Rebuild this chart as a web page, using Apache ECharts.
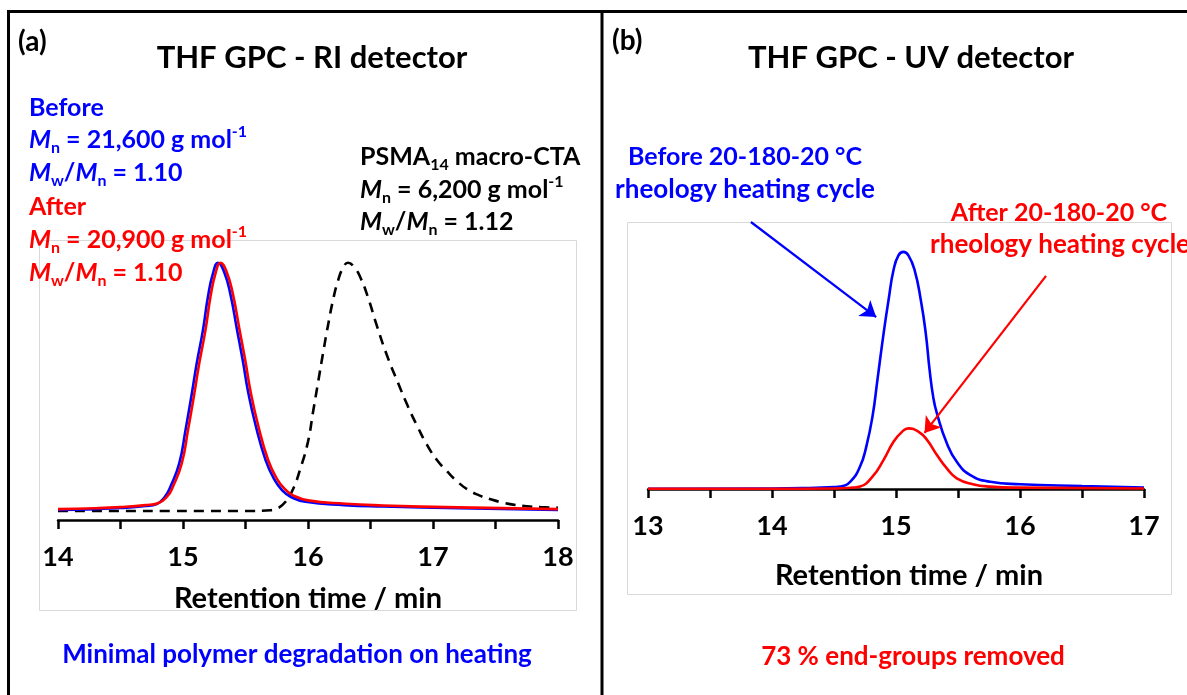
<!DOCTYPE html>
<html><head><meta charset="utf-8">
<script src="https://cdn.jsdelivr.net/npm/echarts@6/dist/echarts.min.js"></script>
<style>html,body{margin:0;padding:0;background:#fff}#c{width:1187px;height:695px}</style>
</head><body><div id="c"></div>
<script>
// ---- Panel (a): THF GPC - RI detector (retention time [min], normalized signal) ----
const riTicks = [14, 15, 16, 17, 18];
const riBefore = [
  [14.00,3.6],[14.30,3.9],[14.50,4.3],[14.70,5.0],[14.79,5.7],[14.855,8.3],[14.90,12.0],[14.97,20.2],
  [15.02,32.1],[15.07,45.0],[15.11,56.0],[15.16,67.9],[15.20,79.8],[15.24,88.1],[15.28,91.9],
  [15.33,88.5],[15.38,80.5],[15.43,68.5],[15.48,56.5],[15.52,46.0],[15.58,34.0],[15.66,21.5],
  [15.73,14.5],[15.80,10.3],[15.86,8.3],[15.98,6.5],[16.29,5.3],[16.60,4.8],[17.21,4.2],[18.00,3.6]
];
const riAfter = [
  [14.00,3.9],[14.30,4.2],[14.50,4.6],[14.70,5.3],[14.80,6.0],[14.875,8.5],[14.92,12.0],[14.99,20.2],
  [15.04,32.1],[15.09,45.0],[15.13,56.0],[15.18,67.9],[15.22,79.8],[15.26,88.1],[15.30,91.9],
  [15.35,88.5],[15.40,80.5],[15.45,68.5],[15.50,56.5],[15.54,46.0],[15.60,34.0],[15.68,21.5],
  [15.75,14.8],[15.82,10.8],[15.88,8.8],[16.00,7.0],[16.30,5.8],[16.60,5.2],[17.20,4.5],[18.00,3.9]
];
const riMacroCTA = [
  [14.00,3.2],[15.50,3.2],[15.70,3.5],[15.76,4.2],[15.82,6.5],[15.88,11.0],[15.94,18.5],[16.00,28.0],
  [16.04,38.5],[16.08,49.0],[16.12,59.5],[16.16,69.5],[16.20,78.5],[16.24,85.5],[16.28,90.0],
  [16.32,91.9],[16.37,90.3],[16.42,86.5],[16.48,79.5],[16.55,69.5],[16.63,59.0],[16.72,49.0],
  [16.80,40.5],[16.88,33.0],[16.95,27.0],[17.03,21.5],[17.11,17.5],[17.20,13.5],[17.28,10.8],
  [17.37,8.8],[17.46,7.4],[17.55,6.3],[17.64,5.5],[17.75,4.9],[17.86,4.6],[18.00,4.4]
];
// ---- Panel (b): THF GPC - UV detector ----
const uvTicks = [13, 14, 15, 16, 17];
const uvBefore = [
  [13.00,0.1],[14.00,0.2],[14.30,0.4],[14.50,0.7],[14.55,0.9],[14.63,2.7],[14.71,8.4],[14.76,15.8],
  [14.81,27.0],[14.85,40.8],[14.90,58.3],[14.94,70.8],[14.98,82.0],[15.02,87.5],[15.06,88.8],
  [15.10,87.5],[15.15,82.0],[15.20,70.8],[15.24,58.3],[15.27,45.0],[15.30,34.5],[15.33,28.3],
  [15.41,17.1],[15.49,10.2],[15.60,5.2],[15.76,2.7],[16.00,1.8],[16.50,1.1],[17.00,0.5]
];
const uvAfter = [
  [13.00,0.1],[14.00,0.1],[14.50,0.2],[14.65,0.5],[14.71,0.9],[14.81,4.6],[14.90,10.9],[14.98,17.7],
  [15.05,21.5],[15.10,22.7],[15.18,21.5],[15.25,18.4],[15.33,12.7],[15.41,7.7],[15.49,4.0],
  [15.62,1.8],[15.76,0.9],[16.00,0.5],[17.00,0.2]
];
// annotation arrows (data coordinates: [start], [end])
const arrowBefore = [[13.83, 100], [14.84, 64.4]];
const arrowAfter = [[16.21, 79.8], [15.23, 21.0]];

const F = 'Lato';
const BLUE = '#0000ff', RED = '#ff0000', BLACK = '#000000';

function rich(color, size) {
  const base = {fontFamily: F, fontWeight: 'bold', fontSize: size, fill: color, lineHeight: 32};
  const small = Math.round(size * 0.64);
  return {
    b: base,
    i: Object.assign({}, base, {fontStyle: 'italic'}),
    sub: {fontFamily: F, fontWeight: 'bold', fontSize: small, fill: color, verticalAlign: 'bottom', lineHeight: 18},
    sup: {fontFamily: F, fontWeight: 'bold', fontSize: small, fill: color, verticalAlign: 'top', lineHeight: 19}
  };
}
function txt(x, y, text, color, size, align, extra) {
  return {
    type: 'text', x: x, y: y, z: 20,
    style: Object.assign({
      text: text, fill: color, fontFamily: F, fontWeight: 'bold', fontSize: size,
      align: align || 'left', verticalAlign: 'middle', rich: rich(color, size)
    }, extra || {})
  };
}
function hline(x1, y1, x2, y2) {
  return {type: 'line', z: 30, shape: {x1: x1, y1: y1, x2: x2, y2: y2}, style: {stroke: '#000', lineWidth: 3}};
}

const S = 25;
const graphics = [
  hline(8, 11.5, 1187, 11.5), hline(8.5, 10, 8.5, 695), hline(602, 10, 602, 695),
  {type: 'rect', z: -5, shape: {x: 39.5, y: 240.5, width: 537, height: 370}, style: {fill: 'none', stroke: '#d9d9d9', lineWidth: 1}},
  {type: 'rect', z: -5, shape: {x: 627.5, y: 222.5, width: 544, height: 372}, style: {fill: 'none', stroke: '#d9d9d9', lineWidth: 1}},
  txt(18, 42, '(a)', BLACK, 28, 'left'),
  txt(612, 41, '(b)', BLACK, 28, 'left'),
  txt(312, 58, 'THF GPC - RI detector', BLACK, 31, 'center'),
  txt(911, 58, 'THF GPC - UV detector', BLACK, 31, 'center'),
  txt(29, 108, '{b|Before}', BLUE, S),
  txt(29, 140, '{i|M}{sub|n}{b| = 21,600 g mol}{sup|-1}', BLUE, S),
  txt(29, 173, '{i|M}{sub|w}{b|/}{i|M}{sub|n}{b| = 1.10}', BLUE, S),
  txt(29, 207, '{b|After}', RED, S),
  txt(29, 240, '{i|M}{sub|n}{b| = 20,900 g mol}{sup|-1}', RED, S),
  txt(29, 273, '{i|M}{sub|w}{b|/}{i|M}{sub|n}{b| = 1.10}', RED, S),
  txt(360, 157, '{b|PSMA}{sub|14}{b| macro-CTA}', BLACK, S),
  txt(360, 190, '{i|M}{sub|n}{b| = 6,200 g mol}{sup|-1}', BLACK, S),
  txt(360, 222, '{i|M}{sub|w}{b|/}{i|M}{sub|n}{b| = 1.12}', BLACK, S),
  txt(745, 157, 'Before 20-180-20 °C', BLUE, S, 'center'),
  txt(745, 190, 'rheology heating cycle', BLUE, 26, 'center'),
  txt(1059, 213, 'After 20-180-20 °C', RED, S, 'center'),
  txt(1060, 245, 'rheology heating cycle', RED, 26, 'center'),
  txt(297, 655, 'Minimal polymer degradation on heating', BLUE, 26, 'center'),
  txt(913, 657, '73 % end-groups removed', RED, 26, 'center')
];

function xAx(grid, ticks, gap, pad) {
  return {
    gridIndex: grid, type: 'value', min: ticks[0], max: ticks[ticks.length - 1], interval: 1,
    axisLine: {show: true, onZero: false, lineStyle: {color: '#000', width: 2.5}},
    axisTick: {show: true, inside: false, length: 9, lineStyle: {color: '#000', width: 2.5}},
    minorTick: {show: true, splitNumber: 2, length: 9, lineStyle: {color: '#000', width: 2.5}},
    splitLine: {show: false}, minorSplitLine: {show: false},
    axisLabel: {show: true, margin: 24, color: '#000', fontFamily: F, fontWeight: 'bold', fontSize: 27,
      formatter: function (v) { return ticks.indexOf(v) >= 0 ? String(v) : ''; }},
    name: 'Retention time / min', nameLocation: 'middle', nameGap: gap,
    nameTextStyle: {color: '#000', fontFamily: F, fontWeight: 'bold', fontSize: 29, padding: pad}
  };
}
function yAx(grid) { return {gridIndex: grid, type: 'value', min: 0, max: 100, show: false}; }
function ser(xi, data, color, dashed, z) {
  return {
    type: 'line', xAxisIndex: xi, yAxisIndex: xi, data: data, showSymbol: false, symbol: 'none',
    smooth: 0.5, z: z, silent: true, animation: false,
    lineStyle: {color: color, width: 2.6, type: dashed ? [10, 7] : 'solid'}
  };
}
function arrow(pts, color) {
  return {
    silent: true, symbol: ['none', 'arrow'], symbolSize: 15, animation: false,
    label: {show: false}, lineStyle: {color: color, width: 2.2, type: 'solid'},
    data: [[{coord: pts[0]}, {coord: pts[1]}]]
  };
}

const s1 = ser(1, uvBefore, BLUE, false, 3); s1.markLine = arrow(arrowBefore, BLUE);
const s2 = ser(1, uvAfter, RED, false, 4); s2.markLine = arrow(arrowAfter, RED);

const chart = echarts.init(document.getElementById('c'), null, {renderer: 'canvas'});
chart.setOption({
  animation: false,
  backgroundColor: '#fff',
  grid: [
    {left: 58, right: 629, top: 240, bottom: 175},
    {left: 648, right: 43, top: 222, bottom: 206}
  ],
  xAxis: [xAx(0, riTicks, 64, [0, 0, 0, 0]), xAx(1, uvTicks, 72, [0, 0, 0, 26])],
  yAxis: [yAx(0), yAx(1)],
  series: [
    ser(0, riMacroCTA, BLACK, true, 2),
    ser(0, riBefore, BLUE, false, 3),
    ser(0, riAfter, RED, false, 4),
    s1, s2
  ],
  graphic: {elements: graphics}
});
</script></body></html>
